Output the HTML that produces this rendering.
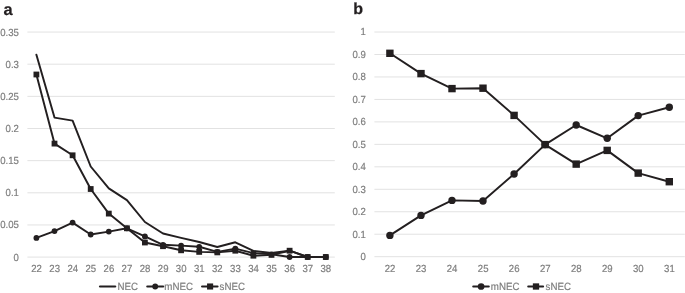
<!DOCTYPE html>
<html><head><meta charset="utf-8"><title>chart</title>
<style>html,body{margin:0;padding:0;background:#fff;}body{width:685px;height:293px;overflow:hidden;font-family:"Liberation Sans",sans-serif;}svg{display:block;will-change:transform;}</style>
</head><body>
<svg width="685" height="293" viewBox="0 0 685 293" font-family="'Liberation Sans', sans-serif" text-rendering="geometricPrecision">
<style>text.t{stroke:#7e7e7e;stroke-width:0.18px;}</style>
<rect width="685" height="293" fill="#fff"/>
<line x1="27.4" x2="334.8" y1="257.10" y2="257.10" stroke="#e2e2e2" stroke-width="1"/>
<text transform="translate(18.90 260.55) scale(1 1.07)" font-size="9.6" class="t" fill="#7e7e7e" text-anchor="end">0</text>
<line x1="27.4" x2="334.8" y1="224.95" y2="224.95" stroke="#e2e2e2" stroke-width="1"/>
<text transform="translate(18.90 228.40) scale(1 1.07)" font-size="9.6" class="t" fill="#7e7e7e" text-anchor="end">0.05</text>
<line x1="27.4" x2="334.8" y1="192.80" y2="192.80" stroke="#e2e2e2" stroke-width="1"/>
<text transform="translate(18.90 196.25) scale(1 1.07)" font-size="9.6" class="t" fill="#7e7e7e" text-anchor="end">0.1</text>
<line x1="27.4" x2="334.8" y1="160.65" y2="160.65" stroke="#e2e2e2" stroke-width="1"/>
<text transform="translate(18.90 164.10) scale(1 1.07)" font-size="9.6" class="t" fill="#7e7e7e" text-anchor="end">0.15</text>
<line x1="27.4" x2="334.8" y1="128.50" y2="128.50" stroke="#e2e2e2" stroke-width="1"/>
<text transform="translate(18.90 131.95) scale(1 1.07)" font-size="9.6" class="t" fill="#7e7e7e" text-anchor="end">0.2</text>
<line x1="27.4" x2="334.8" y1="96.35" y2="96.35" stroke="#e2e2e2" stroke-width="1"/>
<text transform="translate(18.90 99.80) scale(1 1.07)" font-size="9.6" class="t" fill="#7e7e7e" text-anchor="end">0.25</text>
<line x1="27.4" x2="334.8" y1="64.20" y2="64.20" stroke="#e2e2e2" stroke-width="1"/>
<text transform="translate(18.90 67.65) scale(1 1.07)" font-size="9.6" class="t" fill="#7e7e7e" text-anchor="end">0.3</text>
<line x1="27.4" x2="334.8" y1="32.05" y2="32.05" stroke="#e2e2e2" stroke-width="1"/>
<text transform="translate(18.90 35.50) scale(1 1.07)" font-size="9.6" class="t" fill="#7e7e7e" text-anchor="end">0.35</text>
<text transform="translate(36.54 271.60) scale(1 1.07)" font-size="9.6" class="t" fill="#7e7e7e" text-anchor="middle">22</text>
<text transform="translate(54.62 271.60) scale(1 1.07)" font-size="9.6" class="t" fill="#7e7e7e" text-anchor="middle">23</text>
<text transform="translate(72.71 271.60) scale(1 1.07)" font-size="9.6" class="t" fill="#7e7e7e" text-anchor="middle">24</text>
<text transform="translate(90.79 271.60) scale(1 1.07)" font-size="9.6" class="t" fill="#7e7e7e" text-anchor="middle">25</text>
<text transform="translate(108.87 271.60) scale(1 1.07)" font-size="9.6" class="t" fill="#7e7e7e" text-anchor="middle">26</text>
<text transform="translate(126.95 271.60) scale(1 1.07)" font-size="9.6" class="t" fill="#7e7e7e" text-anchor="middle">27</text>
<text transform="translate(145.04 271.60) scale(1 1.07)" font-size="9.6" class="t" fill="#7e7e7e" text-anchor="middle">28</text>
<text transform="translate(163.12 271.60) scale(1 1.07)" font-size="9.6" class="t" fill="#7e7e7e" text-anchor="middle">29</text>
<text transform="translate(181.20 271.60) scale(1 1.07)" font-size="9.6" class="t" fill="#7e7e7e" text-anchor="middle">30</text>
<text transform="translate(199.28 271.60) scale(1 1.07)" font-size="9.6" class="t" fill="#7e7e7e" text-anchor="middle">31</text>
<text transform="translate(217.36 271.60) scale(1 1.07)" font-size="9.6" class="t" fill="#7e7e7e" text-anchor="middle">32</text>
<text transform="translate(235.45 271.60) scale(1 1.07)" font-size="9.6" class="t" fill="#7e7e7e" text-anchor="middle">33</text>
<text transform="translate(253.53 271.60) scale(1 1.07)" font-size="9.6" class="t" fill="#7e7e7e" text-anchor="middle">34</text>
<text transform="translate(271.61 271.60) scale(1 1.07)" font-size="9.6" class="t" fill="#7e7e7e" text-anchor="middle">35</text>
<text transform="translate(289.69 271.60) scale(1 1.07)" font-size="9.6" class="t" fill="#7e7e7e" text-anchor="middle">36</text>
<text transform="translate(307.78 271.60) scale(1 1.07)" font-size="9.6" class="t" fill="#7e7e7e" text-anchor="middle">37</text>
<text transform="translate(325.86 271.60) scale(1 1.07)" font-size="9.6" class="t" fill="#7e7e7e" text-anchor="middle">38</text>
<polyline points="36.4,54.7 54.5,117.6 72.6,120.6 90.7,166.5 108.8,188.4 126.9,200.1 144.9,222.0 163.0,233.5 181.1,237.9 199.2,242.0 217.3,247.0 235.3,242.3 253.4,250.9 271.5,253.0 289.6,250.7 307.7,257.0 325.8,257.0" fill="none" stroke="#231f20" stroke-width="1.95" stroke-linejoin="round" stroke-linecap="round"/>
<polyline points="36.4,237.9 54.5,231.1 72.6,222.6 90.7,234.5 108.8,231.6 126.9,228.3 144.9,236.4 163.0,244.8 181.1,245.6 199.2,246.8 217.3,251.9 235.3,248.6 253.4,253.1 271.5,254.3 289.6,257.0 307.7,257.0 325.8,257.0" fill="none" stroke="#231f20" stroke-width="1.95" stroke-linejoin="round" stroke-linecap="round"/>
<circle cx="36.4" cy="237.9" r="2.9" fill="#231f20"/>
<circle cx="54.5" cy="231.1" r="2.9" fill="#231f20"/>
<circle cx="72.6" cy="222.6" r="2.9" fill="#231f20"/>
<circle cx="90.7" cy="234.5" r="2.9" fill="#231f20"/>
<circle cx="108.8" cy="231.6" r="2.9" fill="#231f20"/>
<circle cx="126.9" cy="228.3" r="2.9" fill="#231f20"/>
<circle cx="144.9" cy="236.4" r="2.9" fill="#231f20"/>
<circle cx="163.0" cy="244.8" r="2.9" fill="#231f20"/>
<circle cx="181.1" cy="245.6" r="2.9" fill="#231f20"/>
<circle cx="199.2" cy="246.8" r="2.9" fill="#231f20"/>
<circle cx="217.3" cy="251.9" r="2.9" fill="#231f20"/>
<circle cx="235.3" cy="248.6" r="2.9" fill="#231f20"/>
<circle cx="253.4" cy="253.1" r="2.9" fill="#231f20"/>
<circle cx="271.5" cy="254.3" r="2.9" fill="#231f20"/>
<circle cx="289.6" cy="257.0" r="2.9" fill="#231f20"/>
<circle cx="307.7" cy="257.0" r="2.9" fill="#231f20"/>
<circle cx="325.8" cy="257.0" r="2.9" fill="#231f20"/>
<polyline points="36.4,74.5 54.5,143.6 72.6,155.3 90.7,189.0 108.8,213.6 126.9,228.3 144.9,242.5 163.0,246.2 181.1,250.3 199.2,251.9 217.3,252.4 235.3,250.7 253.4,255.7 271.5,254.9 289.6,250.7 307.7,257.0 325.8,257.0" fill="none" stroke="#231f20" stroke-width="1.95" stroke-linejoin="round" stroke-linecap="round"/>
<rect x="33.5" y="71.6" width="5.8" height="5.8" fill="#231f20"/>
<rect x="51.6" y="140.7" width="5.8" height="5.8" fill="#231f20"/>
<rect x="69.7" y="152.4" width="5.8" height="5.8" fill="#231f20"/>
<rect x="87.8" y="186.1" width="5.8" height="5.8" fill="#231f20"/>
<rect x="105.9" y="210.7" width="5.8" height="5.8" fill="#231f20"/>
<rect x="124.0" y="225.4" width="5.8" height="5.8" fill="#231f20"/>
<rect x="142.0" y="239.6" width="5.8" height="5.8" fill="#231f20"/>
<rect x="160.1" y="243.3" width="5.8" height="5.8" fill="#231f20"/>
<rect x="178.2" y="247.4" width="5.8" height="5.8" fill="#231f20"/>
<rect x="196.3" y="249.0" width="5.8" height="5.8" fill="#231f20"/>
<rect x="214.4" y="249.5" width="5.8" height="5.8" fill="#231f20"/>
<rect x="232.4" y="247.8" width="5.8" height="5.8" fill="#231f20"/>
<rect x="250.5" y="252.8" width="5.8" height="5.8" fill="#231f20"/>
<rect x="268.6" y="252.0" width="5.8" height="5.8" fill="#231f20"/>
<rect x="286.7" y="247.8" width="5.8" height="5.8" fill="#231f20"/>
<rect x="304.8" y="254.1" width="5.8" height="5.8" fill="#231f20"/>
<rect x="322.9" y="254.1" width="5.8" height="5.8" fill="#231f20"/>
<line x1="100.0" x2="115.2" y1="286.5" y2="286.5" stroke="#231f20" stroke-width="2.2" stroke-linecap="round"/>
<text transform="translate(117.50 289.85) scale(1 1.07)" font-size="9.75" class="t" fill="#7e7e7e">NEC</text>
<line x1="147.3" x2="163.2" y1="286.5" y2="286.5" stroke="#231f20" stroke-width="2.2" stroke-linecap="round"/>
<circle cx="155.2" cy="286.5" r="2.95" fill="#231f20"/>
<text transform="translate(164.30 289.85) scale(1 1.07)" font-size="9.75" class="t" fill="#7e7e7e">mNEC</text>
<line x1="202.1" x2="217.5" y1="286.5" y2="286.5" stroke="#231f20" stroke-width="2.2" stroke-linecap="round"/>
<rect x="207.05" y="283.45" width="6.1" height="6.1" fill="#231f20"/>
<text transform="translate(219.50 289.85) scale(1 1.07)" font-size="9.75" class="t" fill="#7e7e7e">sNEC</text>
<text x="3.5" y="14.55" font-size="16.4" font-weight="bold" fill="#231f20" stroke="#231f20" stroke-width="0.2">a</text>
<line x1="374.4" x2="684.8" y1="256.70" y2="256.70" stroke="#e2e2e2" stroke-width="1"/>
<text transform="translate(365.80 260.00) scale(1 1.07)" font-size="9.6" class="t" fill="#7e7e7e" text-anchor="end">0</text>
<line x1="374.4" x2="684.8" y1="234.23" y2="234.23" stroke="#e2e2e2" stroke-width="1"/>
<text transform="translate(365.80 237.53) scale(1 1.07)" font-size="9.6" class="t" fill="#7e7e7e" text-anchor="end">0.1</text>
<line x1="374.4" x2="684.8" y1="211.76" y2="211.76" stroke="#e2e2e2" stroke-width="1"/>
<text transform="translate(365.80 215.06) scale(1 1.07)" font-size="9.6" class="t" fill="#7e7e7e" text-anchor="end">0.2</text>
<line x1="374.4" x2="684.8" y1="189.29" y2="189.29" stroke="#e2e2e2" stroke-width="1"/>
<text transform="translate(365.80 192.59) scale(1 1.07)" font-size="9.6" class="t" fill="#7e7e7e" text-anchor="end">0.3</text>
<line x1="374.4" x2="684.8" y1="166.82" y2="166.82" stroke="#e2e2e2" stroke-width="1"/>
<text transform="translate(365.80 170.12) scale(1 1.07)" font-size="9.6" class="t" fill="#7e7e7e" text-anchor="end">0.4</text>
<line x1="374.4" x2="684.8" y1="144.35" y2="144.35" stroke="#e2e2e2" stroke-width="1"/>
<text transform="translate(365.80 147.65) scale(1 1.07)" font-size="9.6" class="t" fill="#7e7e7e" text-anchor="end">0.5</text>
<line x1="374.4" x2="684.8" y1="121.88" y2="121.88" stroke="#e2e2e2" stroke-width="1"/>
<text transform="translate(365.80 125.18) scale(1 1.07)" font-size="9.6" class="t" fill="#7e7e7e" text-anchor="end">0.6</text>
<line x1="374.4" x2="684.8" y1="99.41" y2="99.41" stroke="#e2e2e2" stroke-width="1"/>
<text transform="translate(365.80 102.71) scale(1 1.07)" font-size="9.6" class="t" fill="#7e7e7e" text-anchor="end">0.7</text>
<line x1="374.4" x2="684.8" y1="76.94" y2="76.94" stroke="#e2e2e2" stroke-width="1"/>
<text transform="translate(365.80 80.24) scale(1 1.07)" font-size="9.6" class="t" fill="#7e7e7e" text-anchor="end">0.8</text>
<line x1="374.4" x2="684.8" y1="54.47" y2="54.47" stroke="#e2e2e2" stroke-width="1"/>
<text transform="translate(365.80 57.77) scale(1 1.07)" font-size="9.6" class="t" fill="#7e7e7e" text-anchor="end">0.9</text>
<line x1="374.4" x2="684.8" y1="32.00" y2="32.00" stroke="#e2e2e2" stroke-width="1"/>
<text transform="translate(365.80 35.30) scale(1 1.07)" font-size="9.6" class="t" fill="#7e7e7e" text-anchor="end">1</text>
<text transform="translate(390.02 271.60) scale(1 1.07)" font-size="9.6" class="t" fill="#7e7e7e" text-anchor="middle">22</text>
<text transform="translate(421.06 271.60) scale(1 1.07)" font-size="9.6" class="t" fill="#7e7e7e" text-anchor="middle">23</text>
<text transform="translate(452.10 271.60) scale(1 1.07)" font-size="9.6" class="t" fill="#7e7e7e" text-anchor="middle">24</text>
<text transform="translate(483.14 271.60) scale(1 1.07)" font-size="9.6" class="t" fill="#7e7e7e" text-anchor="middle">25</text>
<text transform="translate(514.18 271.60) scale(1 1.07)" font-size="9.6" class="t" fill="#7e7e7e" text-anchor="middle">26</text>
<text transform="translate(545.22 271.60) scale(1 1.07)" font-size="9.6" class="t" fill="#7e7e7e" text-anchor="middle">27</text>
<text transform="translate(576.26 271.60) scale(1 1.07)" font-size="9.6" class="t" fill="#7e7e7e" text-anchor="middle">28</text>
<text transform="translate(607.30 271.60) scale(1 1.07)" font-size="9.6" class="t" fill="#7e7e7e" text-anchor="middle">29</text>
<text transform="translate(638.34 271.60) scale(1 1.07)" font-size="9.6" class="t" fill="#7e7e7e" text-anchor="middle">30</text>
<text transform="translate(669.38 271.60) scale(1 1.07)" font-size="9.6" class="t" fill="#7e7e7e" text-anchor="middle">31</text>
<polyline points="389.9,235.4 421.0,215.4 452.0,200.4 483.0,201.0 514.1,174.0 545.1,144.6 576.2,125.0 607.2,138.3 638.2,115.6 669.3,107.3" fill="none" stroke="#231f20" stroke-width="1.95" stroke-linejoin="round" stroke-linecap="round"/>
<circle cx="389.9" cy="235.4" r="3.7" fill="#231f20"/>
<circle cx="421.0" cy="215.4" r="3.7" fill="#231f20"/>
<circle cx="452.0" cy="200.4" r="3.7" fill="#231f20"/>
<circle cx="483.0" cy="201.0" r="3.7" fill="#231f20"/>
<circle cx="514.1" cy="174.0" r="3.7" fill="#231f20"/>
<circle cx="545.1" cy="144.6" r="3.7" fill="#231f20"/>
<circle cx="576.2" cy="125.0" r="3.7" fill="#231f20"/>
<circle cx="607.2" cy="138.3" r="3.7" fill="#231f20"/>
<circle cx="638.2" cy="115.6" r="3.7" fill="#231f20"/>
<circle cx="669.3" cy="107.3" r="3.7" fill="#231f20"/>
<polyline points="389.9,53.3 421.0,73.6 452.0,88.6 483.0,88.2 514.1,115.4 545.1,144.6 576.2,164.1 607.2,150.4 638.2,173.1 669.3,181.7" fill="none" stroke="#231f20" stroke-width="1.95" stroke-linejoin="round" stroke-linecap="round"/>
<rect x="386.2" y="49.6" width="7.4" height="7.4" fill="#231f20"/>
<rect x="417.3" y="69.9" width="7.4" height="7.4" fill="#231f20"/>
<rect x="448.3" y="84.9" width="7.4" height="7.4" fill="#231f20"/>
<rect x="479.3" y="84.5" width="7.4" height="7.4" fill="#231f20"/>
<rect x="510.4" y="111.7" width="7.4" height="7.4" fill="#231f20"/>
<rect x="541.4" y="140.9" width="7.4" height="7.4" fill="#231f20"/>
<rect x="572.5" y="160.4" width="7.4" height="7.4" fill="#231f20"/>
<rect x="603.5" y="146.7" width="7.4" height="7.4" fill="#231f20"/>
<rect x="634.5" y="169.4" width="7.4" height="7.4" fill="#231f20"/>
<rect x="665.6" y="178.0" width="7.4" height="7.4" fill="#231f20"/>
<line x1="473.2" x2="488.8" y1="286.5" y2="286.5" stroke="#231f20" stroke-width="2.0" stroke-linecap="round"/>
<circle cx="481.1" cy="286.5" r="3.35" fill="#231f20"/>
<text transform="translate(490.80 289.85) scale(1 1.07)" font-size="9.75" class="t" fill="#7e7e7e">mNEC</text>
<line x1="528.2" x2="543.1" y1="286.5" y2="286.5" stroke="#231f20" stroke-width="2.0" stroke-linecap="round"/>
<rect x="532.85" y="283.35" width="6.3" height="6.3" fill="#231f20"/>
<text transform="translate(545.60 289.85) scale(1 1.07)" font-size="9.75" class="t" fill="#7e7e7e">sNEC</text>
<text x="353.3" y="14.45" font-size="16" font-weight="bold" fill="#231f20" stroke="#231f20" stroke-width="0.25">b</text>
</svg>
</body></html>
